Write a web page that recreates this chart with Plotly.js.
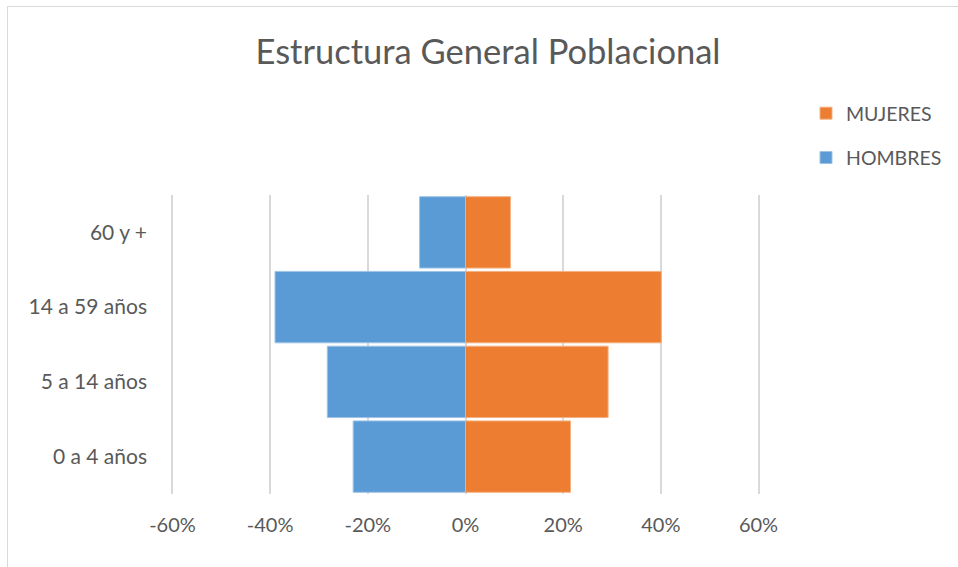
<!DOCTYPE html>
<html>
<head>
<meta charset="utf-8">
<script src="https://cdn.plot.ly/plotly-3.0.1.min.js"></script>
<style>
  html, body { margin: 0; padding: 0; background: #ffffff; }
  #frame { position: absolute; left: 7px; top: 6px; width: 1200px; height: 1200px; border: 1px solid #d9d9d9; }
  #chart { position: absolute; left: 0; top: 0; width: 958px; height: 567px; }
</style>
</head>
<body>
<div id="frame"></div>
<div id="chart"></div>
<script>
const categories = ["0 a 4 años", "5 a 14 años", "14 a 59 años", "60 y +"];
const hombres = [-0.230, -0.283, -0.390, -0.094];
const mujeres = [0.215, 0.292, 0.401, 0.092];
const tickValues = [-0.6, -0.4, -0.2, 0, 0.2, 0.4, 0.6];
const tickLabels = ["-60%", "-40%", "-20%", "0%", "20%", "40%", "60%"];

const FONT = "Lato, 'Open Sans', sans-serif";
const GREY = "#595959";

const traces = [
  {
    type: "bar", orientation: "h", name: "MUJERES",
    y: categories, x: mujeres,
    marker: { color: "#ED7D31", line: { color: "#f4b183", width: 1 } },
    legendgroup: "m", hoverinfo: "skip"
  },
  {
    type: "bar", orientation: "h", name: "HOMBRES",
    y: categories, x: hombres,
    marker: { color: "#5B9BD5", line: { color: "#9dc3e6", width: 1 } },
    legendgroup: "h", hoverinfo: "skip"
  }
];

const layout = {
  width: 958, height: 567,
  paper_bgcolor: "rgba(0,0,0,0)",
  plot_bgcolor: "rgba(0,0,0,0)",
  margin: { l: 171, r: 198, t: 195, b: 73 },
  barmode: "relative",
  bargap: 0.045,
  showlegend: true,
  font: { family: FONT, color: GREY, size: 18 },
  title: {
    text: "Estructura General Poblacional",
    font: { family: FONT, size: 34.5, color: GREY },
    x: 488 / 958, xanchor: "center", xref: "container",
    y: 1 - 52 / 567, yanchor: "middle", yref: "container"
  },
  xaxis: {
    range: [-0.603, 0.603],
    tickvals: tickValues, ticktext: tickLabels,
    showgrid: true, gridcolor: "#d9d9d9", gridwidth: 2,
    zeroline: true, zerolinecolor: "#d9d9d9", zerolinewidth: 2,
    showline: false, ticks: "",
    ticklabelstandoff: 17,
    tickfont: { family: FONT, size: 20, color: GREY },
    fixedrange: true
  },
  yaxis: {
    type: "category",
    categoryorder: "array", categoryarray: categories,
    showgrid: false, zeroline: false, showline: false, ticks: "",
    ticklabelstandoff: 23,
    tickfont: { family: FONT, size: 21, color: GREY },
    fixedrange: true
  },
  legend: {
    xref: "container", yref: "container",
    x: 806 / 958, xanchor: "left",
    y: 1 - 94 / 567, yanchor: "top",
    traceorder: "grouped",
    tracegroupgap: 16,
    font: { family: FONT, size: 19.5, color: GREY },
    bgcolor: "rgba(0,0,0,0)"
  }
};

Plotly.newPlot("chart", traces, layout, { displayModeBar: false, staticPlot: true });
</script>
</body>
</html>
